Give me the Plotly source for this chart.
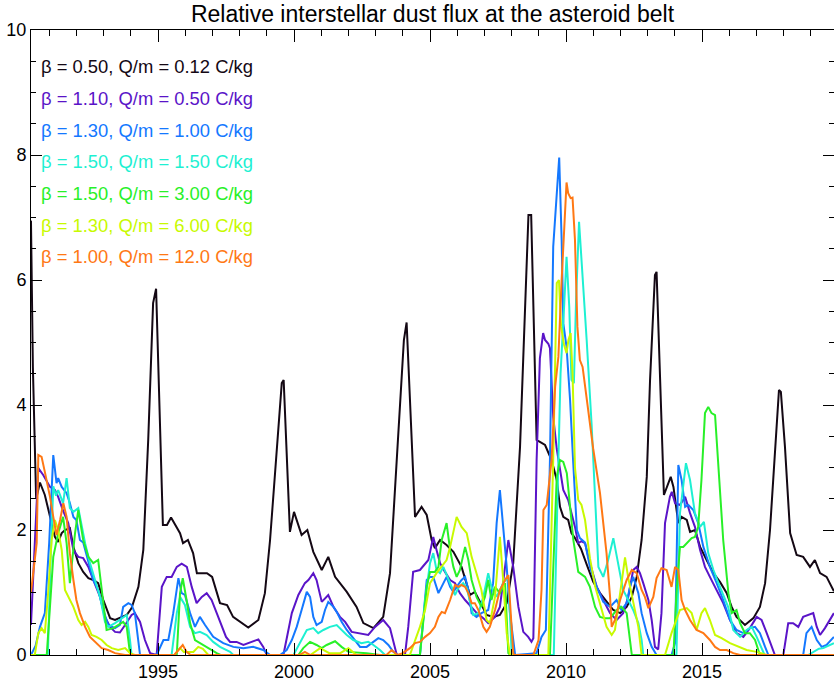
import plotly.graph_objects as go

# ---- series data: time (decimal year) and relative flux ----
black_t = [1990.33, 1990.40, 1990.52, 1990.66, 1990.84, 1991.03, 1991.21, 1991.33, 1991.46, 1991.58,
           1991.76, 1991.89, 1992.07, 1992.25, 1992.44, 1992.62, 1992.80, 1992.99, 1993.24, 1993.42,
           1993.66, 1993.85, 1994.03, 1994.28, 1994.46, 1994.64, 1994.82, 1994.93, 1995.18, 1995.33,
           1995.48, 1995.63, 1995.81, 1995.92, 1996.10, 1996.29, 1996.43, 1996.80, 1996.99, 1997.28,
           1997.54, 1997.76, 1998.01, 1998.32, 1998.69, 1998.93, 1999.12, 1999.35, 1999.55, 1999.62,
           1999.85, 2000.00, 2000.28, 2000.49, 2000.71, 2001.02, 2001.26, 2001.51, 2001.94, 2002.30,
           2002.55, 2002.92, 2003.28, 2003.53, 2003.83, 2004.04, 2004.14, 2004.45, 2004.69, 2004.88,
           2005.06, 2005.18, 2005.37, 2005.61, 2005.86, 2006.16, 2006.47, 2006.65, 2006.84, 2007.08,
           2007.33, 2007.57, 2007.82, 2008.06, 2008.31, 2008.62, 2008.72, 2008.92, 2009.04, 2009.23,
           2009.47, 2009.66, 2009.78, 2009.90, 2010.08, 2010.20, 2010.33, 2010.55, 2010.76, 2011.00,
           2011.25, 2011.49, 2011.74, 2011.99, 2012.23, 2012.42, 2012.60, 2012.78, 2012.97, 2013.09,
           2013.27, 2013.33, 2013.60, 2013.85, 2013.95, 2014.13, 2014.25, 2014.44, 2014.56, 2014.74,
           2014.93, 2015.17, 2015.42, 2015.66, 2015.91, 2016.09, 2016.27, 2016.58, 2016.89, 2017.13,
           2017.32, 2017.50, 2017.68, 2017.83, 2017.90, 2018.05, 2018.24, 2018.48, 2018.72, 2018.97,
           2019.15, 2019.34, 2019.58, 2019.85]
black_v = [6.95, 4.60, 2.50, 2.76, 2.56, 2.21, 1.89, 1.81, 1.95, 2.00,
           2.03, 1.73, 1.47, 1.33, 1.23, 1.20, 1.15, 0.88, 0.59, 0.56,
           0.61, 0.64, 0.75, 1.09, 1.68, 3.44, 5.63, 5.86, 2.08, 2.08,
           2.20, 2.08, 1.95, 1.79, 1.84, 1.63, 1.31, 1.31, 1.25, 0.83,
           0.80, 0.61, 0.53, 0.44, 0.56, 0.99, 1.84, 3.20, 4.35, 4.40,
           1.97, 2.29, 1.92, 2.00, 1.65, 1.36, 1.57, 1.25, 1.01, 0.77,
           0.51, 0.43, 0.61, 1.31, 3.44, 5.04, 5.32, 2.21, 2.37, 2.24,
           1.84, 1.71, 1.84, 1.76, 1.65, 1.41, 0.96, 1.01, 0.85, 0.64,
           0.61, 0.64, 0.83, 1.47, 3.33, 7.04, 7.04, 3.44, 3.41, 3.36,
           3.12, 2.80, 2.37, 2.21, 2.16, 1.95, 1.87, 1.70, 1.45, 1.17,
           0.99, 0.85, 0.72, 0.67, 0.77, 0.93, 1.25, 1.84, 2.85, 4.40,
           6.08, 6.13, 2.56, 2.85, 2.69, 2.11, 2.21, 2.16, 1.97, 2.00,
           1.73, 1.52, 1.31, 1.17, 0.99, 0.77, 0.61, 0.48, 0.59, 0.77,
           1.15, 2.00, 3.33, 4.24, 4.21, 3.33, 1.95, 1.60, 1.57, 1.41,
           1.52, 1.31, 1.25, 1.02]

purple_t = [1990.33, 1990.60, 1990.78, 1991.03, 1991.21, 1991.33, 1991.50, 1991.70, 1991.89, 1992.07,
            1992.25, 1992.44, 1992.62, 1992.87, 1993.05, 1993.24, 1993.42, 1993.60, 1993.79, 1994.03,
            1994.15, 1994.34, 1994.52, 1994.71, 1994.95, 1995.14, 1995.32, 1995.50, 1995.69, 1995.87,
            1996.06, 1996.24, 1996.42, 1996.61, 1996.79, 1996.97, 1997.16, 1997.35, 1997.50, 1997.65,
            1997.89, 1998.14, 1998.38, 1998.69, 1998.87, 1999.00, 1999.61, 1999.73, 1999.92, 2000.16,
            2000.40, 2000.53, 2000.71, 2000.83, 2001.02, 2001.26, 2001.45, 2001.69, 2001.88, 2002.12,
            2002.43, 2002.73, 2002.98, 2003.28, 2003.53, 2003.78, 2004.08, 2004.20, 2004.38, 2004.63,
            2004.94, 2005.12, 2005.24, 2005.37, 2005.55, 2005.74, 2005.92, 2006.10, 2006.29, 2006.53,
            2006.72, 2006.96, 2007.14, 2007.39, 2007.57, 2007.76, 2007.88, 2008.06, 2008.25, 2008.43,
            2008.61, 2008.73, 2008.80, 2008.92, 2009.04, 2009.16, 2009.23, 2009.35, 2009.41, 2009.53,
            2009.60, 2009.66, 2009.90, 2010.08, 2010.33, 2010.45, 2010.57, 2010.70, 2010.88, 2011.13,
            2011.37, 2011.62, 2011.86, 2012.10, 2012.29, 2012.47, 2012.60, 2012.72, 2012.84, 2013.03,
            2013.15, 2013.27, 2013.39, 2013.51, 2013.64, 2013.82, 2013.89, 2014.01, 2014.19, 2014.38,
            2014.56, 2014.74, 2014.93, 2015.11, 2015.29, 2015.54, 2015.78, 2016.03, 2016.27, 2016.52,
            2016.76, 2017.01, 2017.19, 2017.38, 2017.56, 2017.68, 2017.99, 2018.17, 2018.35, 2018.54,
            2018.72, 2018.91, 2019.09, 2019.22, 2019.34, 2019.52, 2019.71, 2019.85]
purple_v = [0.48, 2.99, 2.88, 2.69, 2.64, 2.53, 2.32, 2.11, 1.68, 1.57,
            1.55, 1.41, 1.20, 0.93, 0.61, 0.45, 0.37, 0.36, 0.48, 0.64,
            0.67, 0.53, 0.24, 0.03, 0.00, 1.09, 1.25, 1.25, 1.41, 1.46,
            1.41, 1.09, 0.83, 0.93, 0.99, 0.88, 0.67, 0.45, 0.29, 0.21,
            0.21, 0.16, 0.20, 0.25, 0.13, 0.00, 0.00, 0.24, 0.67, 0.96,
            1.15, 1.20, 1.31, 1.20, 0.85, 0.96, 0.77, 0.61, 0.53, 0.37,
            0.35, 0.32, 0.45, 0.56, 0.43, 0.00, 0.00, 0.45, 1.33, 1.36,
            1.52, 1.89, 1.68, 1.47, 1.33, 1.20, 1.15, 0.99, 0.88, 0.77,
            0.67, 0.59, 0.51, 0.61, 0.77, 1.41, 1.84, 1.41, 0.77, 0.37,
            0.29, 0.21, 0.27, 3.12, 4.75, 5.15, 5.04, 4.98, 4.91, 3.81,
            3.47, 3.30, 2.64, 2.48, 2.05, 1.79, 1.82, 1.79, 1.47, 1.09,
            0.88, 0.67, 0.56, 0.67, 0.93, 1.36, 1.41, 1.31, 1.15, 0.88,
            0.56, 0.13, 0.09, 0.67, 2.11, 2.53, 2.61, 2.43, 2.40, 2.53,
            2.27, 2.05, 1.68, 1.41, 1.25, 1.04, 0.83, 0.56, 0.35, 0.29,
            0.43, 0.61, 0.56, 0.35, 0.13, 0.00, 0.00, 0.51, 0.51, 0.45,
            0.61, 0.64, 0.67, 0.45, 0.32, 0.43, 0.56, 0.67]

blue_t = [1990.33, 1990.50, 1990.66, 1990.84, 1991.00, 1991.15, 1991.27, 1991.33, 1991.46, 1991.64,
          1991.76, 1991.89, 1992.00, 1992.13, 1992.25, 1992.44, 1992.62, 1992.80, 1992.99, 1993.17,
          1993.42, 1993.60, 1993.72, 1993.91, 1994.03, 1994.15, 1994.28, 1994.34, 1994.95, 1995.20,
          1995.38, 1995.56, 1995.75, 1995.87, 1995.99, 1996.18, 1996.36, 1996.54, 1996.73, 1997.03,
          1997.40, 1997.77, 1998.14, 1998.50, 1998.87, 1999.12, 1999.49, 1999.73, 1999.92, 2000.10,
          2000.28, 2000.47, 2000.59, 2000.71, 2000.83, 2001.02, 2001.14, 2001.26, 2001.45, 2001.57,
          2001.75, 2001.94, 2002.18, 2002.43, 2002.67, 2002.92, 2003.10, 2003.28, 2003.47, 2003.65,
          2003.83, 2004.63, 2004.75, 2004.88, 2005.00, 2005.12, 2005.31, 2005.49, 2005.61, 2005.74,
          2005.86, 2005.98, 2006.16, 2006.29, 2006.41, 2006.53, 2006.71, 2006.89, 2007.14, 2007.32,
          2007.45, 2007.57, 2007.69, 2007.82, 2007.94, 2008.06, 2008.13, 2008.92, 2009.10, 2009.26,
          2009.41, 2009.53, 2009.66, 2009.75, 2009.84, 2009.90, 2010.02, 2010.15, 2010.26, 2010.40,
          2010.51, 2010.70, 2010.88, 2011.13, 2011.37, 2011.62, 2011.86, 2012.04, 2012.23, 2012.35,
          2012.47, 2012.66, 2012.78, 2012.97, 2013.15, 2013.33, 2013.88, 2014.01, 2014.13, 2014.25,
          2014.38, 2014.50, 2014.68, 2014.86, 2015.05, 2015.29, 2015.54, 2015.78, 2016.03, 2016.27,
          2016.52, 2016.76, 2016.95, 2017.13, 2017.32, 2017.44, 2018.72, 2018.84, 2019.03, 2019.22,
          2019.40, 2019.58, 2019.85]
blue_v = [0.00, 0.15, 0.45, 0.67, 1.80, 3.20, 2.75, 2.83, 2.69, 2.59,
          2.43, 2.21, 2.16, 1.84, 1.80, 1.47, 1.20, 1.04, 0.72, 0.48,
          0.43, 0.48, 0.77, 0.83, 0.80, 0.67, 0.24, 0.00, 0.00, 0.24,
          0.24, 0.67, 1.23, 0.99, 0.96, 0.67, 0.45, 0.61, 0.48, 0.29,
          0.19, 0.13, 0.11, 0.13, 0.08, 0.00, 0.00, 0.08, 0.24, 0.45,
          0.72, 1.01, 0.93, 0.61, 0.48, 0.53, 0.72, 0.85, 0.77, 0.69,
          0.53, 0.40, 0.27, 0.13, 0.13, 0.21, 0.27, 0.24, 0.16, 0.05,
          0.00, 0.00, 0.56, 1.20, 1.25, 1.25, 0.99, 1.15, 1.25, 1.09,
          1.01, 1.09, 1.20, 1.25, 1.04, 0.67, 0.61, 0.67, 0.72, 1.15,
          2.11, 2.64, 2.05, 1.41, 0.67, 0.24, 0.00, 0.03, 0.29, 0.40,
          3.12, 6.53, 7.39, 7.96, 6.64, 5.31, 4.93, 4.08, 3.12, 2.00,
          1.87, 1.80, 1.41, 1.09, 0.85, 0.77, 0.88, 0.72, 0.83, 1.09,
          1.25, 0.99, 0.67, 0.35, 0.13, 0.00, 0.00, 0.19, 3.04, 2.80,
          2.37, 2.40, 2.32, 2.11, 1.73, 1.41, 1.15, 0.88, 0.56, 0.40,
          0.35, 0.43, 0.45, 0.35, 0.13, 0.00, 0.00, 0.35, 0.45, 0.24,
          0.13, 0.16, 0.29]

cyan_t = [1990.33, 1990.95, 1991.05, 1991.15, 1991.25, 1991.33, 1991.51, 1991.64, 1991.76, 1991.89,
          1992.07, 1992.19, 1992.32, 1992.50, 1992.68, 1992.87, 1993.05, 1993.17, 1993.42, 1993.66,
          1993.85, 1993.97, 1994.03, 1995.50, 1995.69, 1995.81, 1995.99, 1996.18, 1996.36, 1996.54,
          1996.79, 1997.03, 1997.28, 1997.65, 1997.77, 1999.98, 2000.22, 2000.47, 2000.71, 2000.89,
          2001.08, 2001.32, 2001.57, 2001.75, 2001.94, 2002.18, 2002.48, 2002.73, 2002.92, 2003.16,
          2003.35, 2004.63, 2004.82, 2005.00, 2005.12, 2005.24, 2005.37, 2005.49, 2005.61, 2005.74,
          2005.92, 2006.04, 2006.22, 2006.35, 2006.47, 2006.59, 2006.78, 2006.96, 2007.14, 2007.26,
          2007.45, 2007.69, 2007.88, 2008.00, 2008.05, 2009.55, 2009.72, 2009.80, 2009.93, 2010.02,
          2010.12, 2010.20, 2010.29, 2010.37, 2010.48, 2010.61, 2010.76, 2010.94, 2011.05, 2011.19,
          2011.37, 2011.55, 2011.74, 2011.93, 2012.10, 2012.29, 2012.47, 2012.66, 2012.78, 2012.84,
          2014.06, 2014.19, 2014.41, 2014.56, 2014.74, 2014.93, 2015.07, 2015.23, 2015.42, 2015.66,
          2015.96, 2016.15, 2016.40, 2016.64, 2016.83, 2017.01, 2017.25, 2017.30, 2018.90, 2019.09,
          2019.30, 2019.46, 2019.85]
cyan_v = [0.00, 0.00, 1.50, 2.70, 2.55, 2.64, 2.43, 2.83, 2.35, 2.29,
          2.35, 2.05, 1.79, 1.47, 1.20, 0.93, 0.53, 0.45, 0.51, 0.59,
          0.64, 0.24, 0.00, 0.00, 0.67, 0.93, 0.80, 0.45, 0.35, 0.37,
          0.32, 0.21, 0.13, 0.05, 0.00, 0.00, 0.19, 0.40, 0.43, 0.35,
          0.40, 0.45, 0.48, 0.40, 0.32, 0.24, 0.19, 0.21, 0.16, 0.08,
          0.00, 0.00, 0.88, 1.47, 1.63, 1.36, 1.31, 1.41, 1.28, 1.15,
          0.96, 1.07, 1.15, 1.07, 0.83, 0.64, 0.67, 0.93, 1.31, 1.09,
          0.93, 1.15, 1.25, 0.03, 0.00, 0.00, 3.12, 4.51, 5.57, 6.37,
          5.57, 4.40, 4.35, 5.68, 6.93, 6.11, 5.04, 3.70, 2.60, 1.41,
          1.25, 1.52, 1.87, 1.41, 1.04, 0.88, 0.72, 0.51, 0.24, 0.00,
          0.00, 2.27, 3.07, 2.80, 2.27, 2.05, 2.13, 1.63, 1.36, 1.09,
          0.77, 0.40, 0.29, 0.40, 0.45, 0.29, 0.03, 0.00, 0.00, 0.05,
          0.10, 0.11, 0.19]

green_t = [1990.33, 1990.91, 1991.15, 1991.33, 1991.51, 1991.64, 1991.76, 1991.95, 1992.07, 1992.25,
           1992.44, 1992.62, 1992.80, 1992.99, 1993.11, 1993.36, 1993.54, 1993.72, 1993.85, 1993.97,
           1994.05, 1995.69, 1995.81, 1995.91, 1996.05, 1996.18, 1996.36, 1996.54, 1996.79, 1997.16,
           1997.30, 2000.16, 2000.34, 2000.59, 2000.83, 2001.02, 2001.20, 2001.51, 2001.75, 2002.00,
           2002.67, 2003.16, 2004.63, 2004.88, 2005.00, 2005.18, 2005.31, 2005.43, 2005.61, 2005.74,
           2005.86, 2005.98, 2006.10, 2006.29, 2006.41, 2006.53, 2006.71, 2006.89, 2007.02, 2007.14,
           2007.26, 2007.39, 2007.57, 2007.76, 2007.88, 2007.95, 2009.41, 2009.53, 2009.66, 2009.78,
           2009.90, 2010.03, 2010.15, 2010.27, 2010.45, 2010.70, 2010.88, 2011.07, 2011.25, 2011.43,
           2011.62, 2011.86, 2012.04, 2012.23, 2012.42, 2013.95, 2014.06, 2014.19, 2014.31, 2014.44,
           2014.62, 2014.74, 2014.86, 2014.98, 2015.11, 2015.23, 2015.35, 2015.48, 2015.60, 2015.78,
           2015.97, 2016.09, 2016.27, 2016.40, 2016.58, 2016.76, 2016.95, 2017.13, 2019.85]
green_v = [0.00, 0.00, 1.57, 1.95, 2.21, 1.79, 1.15, 1.95, 2.32, 1.84,
           1.57, 1.47, 1.52, 0.88, 0.40, 0.43, 0.48, 0.53, 0.45, 0.03,
           0.00, 0.00, 0.99, 1.23, 0.88, 0.51, 0.24, 0.19, 0.13, 0.03,
           0.00, 0.00, 0.11, 0.21, 0.16, 0.11, 0.16, 0.22, 0.13, 0.05,
           0.03, 0.00, 0.00, 1.09, 1.33, 1.33, 1.41, 1.84, 2.11, 1.68,
           1.41, 1.25, 1.36, 1.73, 1.52, 1.20, 0.93, 0.77, 0.93, 1.20,
           0.88, 1.09, 0.99, 1.15, 0.03, 0.00, 0.00, 1.31, 2.85, 3.12,
           3.09, 2.91, 2.37, 1.84, 1.33, 1.25, 1.09, 0.77, 0.61, 0.59,
           0.59, 0.72, 0.77, 0.67, 0.00, 0.00, 0.99, 1.73, 1.73, 1.79,
           1.87, 1.89, 2.05, 2.80, 3.87, 3.97, 3.87, 3.84, 3.01, 1.84,
           0.99, 0.67, 0.72, 0.51, 0.35, 0.35, 0.24, 0.00, 0.00]

yellow_t = [1990.33, 1990.47, 1990.60, 1990.72, 1990.84, 1990.97, 1991.09, 1991.21, 1991.33, 1991.46,
            1991.58, 1991.70, 1991.89, 1992.07, 1992.19, 1992.32, 1992.44, 1992.56, 1992.74, 1992.93,
            1993.11, 1993.30, 1993.54, 1993.79, 1993.97, 1994.15, 1995.60, 1995.81, 1995.95, 1996.30,
            1996.48, 1996.65, 1996.85, 2000.60, 2000.96, 2001.30, 2001.70, 2002.00, 2002.30, 2004.26,
            2004.63, 2004.82, 2005.00, 2005.24, 2005.43, 2005.61, 2005.74, 2005.86, 2005.98, 2006.16,
            2006.35, 2006.53, 2006.71, 2006.89, 2007.08, 2007.20, 2007.39, 2007.57, 2007.69, 2007.82,
            2007.94, 2009.35, 2009.53, 2009.66, 2009.74, 2009.82, 2009.93, 2010.02, 2010.09, 2010.17,
            2010.24, 2010.33, 2010.45, 2010.57, 2010.70, 2010.88, 2011.07, 2011.31, 2011.49, 2011.68,
            2011.80, 2011.99, 2012.17, 2012.29, 2012.47, 2012.66, 2012.78, 2013.64, 2013.88, 2014.06,
            2014.19, 2014.44, 2014.62, 2014.80, 2014.98, 2015.11, 2015.29, 2015.48, 2015.72, 2016.03,
            2016.33, 2016.64, 2017.01, 2017.38, 2019.85]
yellow_v = [0.00, 0.00, 0.35, 0.43, 0.35, 1.04, 1.84, 2.16, 2.00, 1.68,
            1.04, 0.93, 0.77, 0.56, 0.48, 0.53, 0.45, 0.32, 0.29, 0.24,
            0.16, 0.11, 0.08, 0.11, 0.03, 0.00, 0.00, 0.11, 0.05, 0.05,
            0.13, 0.10, 0.00, 0.00, 0.11, 0.03, 0.03, 0.11, 0.00, 0.00,
            0.45, 0.72, 1.15, 1.31, 1.41, 1.52, 1.73, 2.00, 2.21, 2.05,
            1.95, 1.57, 1.31, 1.04, 0.56, 0.51, 0.93, 1.89, 1.20, 0.35,
            0.00, 0.00, 3.12, 5.95, 6.00, 5.25, 4.96, 4.83, 5.04, 5.15,
            4.51, 3.00, 2.48, 2.40, 2.16, 1.55, 1.10, 0.72, 0.45, 0.32,
            0.40, 0.99, 1.56, 1.23, 0.83, 0.45, 0.00, 0.00, 0.35, 0.56,
            0.72, 0.75, 0.67, 0.40, 0.67, 0.75, 0.56, 0.32, 0.27, 0.19,
            0.13, 0.08, 0.05, 0.00, 0.00]

orange_t = [1990.33, 1990.54, 1990.60, 1990.72, 1990.84, 1991.03, 1991.15, 1991.27, 1991.40, 1991.52,
            1991.64, 1991.76, 1991.89, 1992.00, 1992.13, 1992.32, 1992.50, 1992.68, 1992.93, 1993.17,
            1993.42, 1993.79, 1995.60, 1995.81, 1995.91, 1996.05, 1996.20, 2000.20, 2000.40, 2000.60,
            2003.40, 2003.59, 2003.80, 2004.00, 2004.26, 2004.45, 2004.63, 2004.82, 2005.00, 2005.18,
            2005.31, 2005.43, 2005.55, 2005.74, 2005.92, 2006.04, 2006.16, 2006.29, 2006.41, 2006.53,
            2006.65, 2006.78, 2006.96, 2007.08, 2007.20, 2007.39, 2007.57, 2007.76, 2007.88, 2008.06,
            2008.10, 2008.80, 2008.99, 2009.10, 2009.17, 2009.29, 2009.41, 2009.47, 2009.60, 2009.72,
            2009.84, 2009.93, 2010.02, 2010.08, 2010.17, 2010.24, 2010.33, 2010.42, 2010.51, 2010.61,
            2010.70, 2010.82, 2011.00, 2011.25, 2011.49, 2011.62, 2011.68, 2011.80, 2011.99, 2012.23,
            2012.42, 2012.60, 2012.78, 2012.90, 2013.03, 2013.21, 2013.33, 2013.51, 2013.70, 2013.88,
            2014.01, 2014.13, 2014.25, 2014.38, 2014.56, 2014.80, 2015.05, 2015.29, 2015.48, 2015.66,
            2015.91, 2016.15, 2016.40, 2019.85]
orange_v = [1.00, 1.79, 3.20, 3.17, 2.93, 2.53, 2.21, 1.92, 2.16, 2.43,
            2.21, 1.63, 1.20, 0.88, 0.67, 0.45, 0.29, 0.21, 0.11, 0.08,
            0.03, 0.00, 0.00, 0.11, 0.16, 0.05, 0.00, 0.00, 0.05, 0.00,
            0.00, 0.08, 0.00, 0.03, 0.11, 0.19, 0.21, 0.29, 0.35, 0.45,
            0.61, 0.69, 0.67, 0.88, 1.12, 1.09, 1.12, 1.09, 0.99, 0.83,
            0.83, 0.72, 0.45, 0.37, 0.45, 0.72, 1.04, 1.20, 1.28, 0.03,
            0.00, 0.00, 0.24, 1.04, 2.32, 2.40, 2.91, 3.12, 4.29, 4.77,
            6.00, 6.91, 7.56, 7.39, 7.31, 7.32, 6.64, 5.25, 4.72, 4.61,
            4.29, 3.85, 3.30, 2.59, 1.63, 0.93, 0.45, 0.56, 0.88, 1.20,
            1.36, 1.31, 1.04, 0.93, 0.75, 0.93, 1.23, 1.39, 1.36, 1.09,
            1.41, 1.36, 0.88, 0.72, 0.56, 0.40, 0.35, 0.24, 0.13, 0.08,
            0.08, 0.03, 0.00, 0.00]

labels = [
    "\u03b2 = 0.50, Q/m = 0.12 C/kg",
    "\u03b2 = 1.10, Q/m = 0.50 C/kg",
    "\u03b2 = 1.30, Q/m = 1.00 C/kg",
    "\u03b2 = 1.50, Q/m = 1.50 C/kg",
    "\u03b2 = 1.50, Q/m = 3.00 C/kg",
    "\u03b2 = 1.30, Q/m = 6.00 C/kg",
    "\u03b2 = 1.00, Q/m = 12.0 C/kg",
]
colors = ["#140814", "#5a14c8", "#1478ff", "#1ef0d2", "#28f028", "#c8fa00", "#ff7814"]
series = [(black_t, black_v), (purple_t, purple_v), (blue_t, blue_v), (cyan_t, cyan_v),
          (green_t, green_v), (yellow_t, yellow_v), (orange_t, orange_v)]

x_major = [1995, 2000, 2005, 2010, 2015]
FONT = "Liberation Sans, Arial, sans-serif"

W, H = 834, 688
ML, MR, MT, MB = 31, 0, 30, 33

fig = go.Figure()
for (t, v), c, name in zip(series, colors, labels):
    fig.add_trace(go.Scatter(x=t, y=v, mode="lines", name=name,
                             line=dict(color=c, width=2), showlegend=False))

# colored text key in the upper-left corner
plot_h = H - MT - MB
for i, (name, c) in enumerate(zip(labels, colors)):
    ypix = 66.7 + i * 31.67
    fig.add_annotation(text=name, xref="paper", yref="paper",
                       x=(39 - ML) / (W - ML - MR), y=(H - MB - ypix) / plot_h,
                       xanchor="left", yanchor="middle", showarrow=False,
                       font=dict(family=FONT, size=18.4, color=c))

fig.update_layout(
    width=W, height=H,
    margin=dict(l=ML, r=MR, t=MT, b=MB, pad=0),
    paper_bgcolor="white", plot_bgcolor="white",
    title=dict(text="Relative interstellar dust flux at the asteroid belt",
               x=(ML + (W - ML - MR) / 2) / W, xanchor="center",
               y=1 - 14 / H, yanchor="middle", yref="container",
               font=dict(family=FONT, size=23, color="black")),
    font=dict(family=FONT, size=18, color="black"),
)
fig.update_xaxes(range=[1990.331, 2019.853], tickmode="array", tickvals=x_major,
                 ticktext=[str(y) for y in x_major],
                 ticks="inside", ticklen=12, tickwidth=1, tickcolor="black",
                 minor=dict(dtick=1, tick0=1990, ticks="inside", ticklen=6,
                            tickcolor="black", tickwidth=1),
                 showline=True, linecolor="black", linewidth=1, mirror="allticks",
                 showgrid=False, zeroline=False,
                 tickfont=dict(family=FONT, size=18, color="black"))
fig.update_yaxes(range=[0, 10], dtick=2, tick0=0,
                 ticks="inside", ticklen=11, tickwidth=1, tickcolor="black",
                 minor=dict(dtick=0.5, tick0=0, ticks="inside", ticklen=5,
                            tickcolor="black", tickwidth=1),
                 showline=True, linecolor="black", linewidth=1, mirror="allticks",
                 showgrid=False, zeroline=False,
                 tickfont=dict(family=FONT, size=18, color="black"))

fig.write_html("out.html")
